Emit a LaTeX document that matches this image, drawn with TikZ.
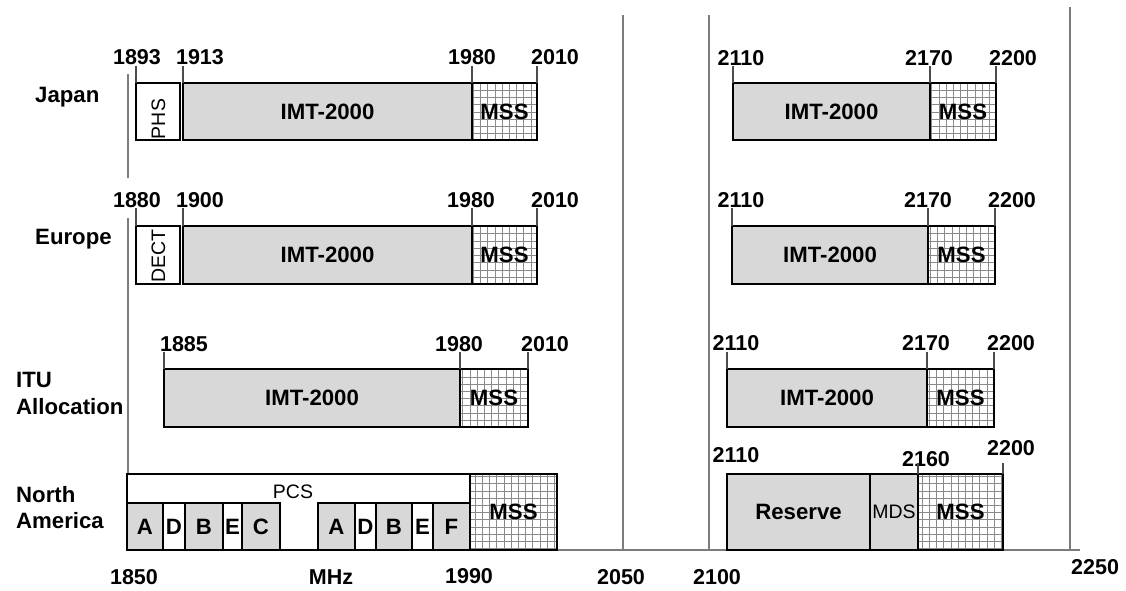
\documentclass[tikz,border=0pt]{standalone}
\usepackage{fontspec}
\setmainfont{Liberation Sans}
\definecolor{bandgray}{HTML}{D8D8D8}
\definecolor{guidegray}{HTML}{7C7C7C}
\definecolor{hatchgray}{HTML}{8A8A8A}
\newcommand\bigbold{\fontsize{21.5}{24}\selectfont\bfseries}
\newcommand\boxbold{\fontsize{22.2}{24}\selectfont\bfseries}
\newcommand\smallreg{\fontsize{19.5}{22}\selectfont}
\newcommand\fband[7]{\node[#6, minimum width={(#4-#2)*1pt}, minimum height={(#5-#3)*1pt}, anchor=north west] (#1) at (#2,#3) {#7};}
\tikzset{
  guide/.style={draw=guidegray, line width=1.6pt},
  tickln/.style={draw=black!70, line width=1.2pt},
  bandbox/.style={draw=black, line width=2.6pt, inner sep=0pt, outer sep=0pt},
  plainbox/.style={bandbox, fill=white},
  imt/.style={bandbox, fill=bandgray, font=\boxbold},
  mss/.style={bandbox, fill=white, font=\boxbold,
    path picture={\draw[draw=hatchgray, line width=0.7pt]
      ([xshift=-10pt,yshift=-10pt]path picture bounding box.south west) grid[step=7.2pt]
      ([xshift=10pt,yshift=10pt]path picture bounding box.north east);}},
  freq/.style={font=\bigbold, inner sep=0pt, anchor=base},
  region/.style={font=\boxbold, inner sep=0pt, anchor=base west},
  smalltxt/.style={font=\smallreg, inner sep=0pt},
}
\begin{document}
\begin{tikzpicture}[x=1pt,y=-1pt]
\useasboundingbox (0,0) rectangle (1126,590);
\fill[white] (0,0) rectangle (1126,590);
% frame coordinates
\coordinate (g1t) at (128,74);
\coordinate (g1m) at (128,178);
\coordinate (g1n) at (128,218);
\coordinate (g1b) at (128,550);
\coordinate (g2t) at (623,15);
\coordinate (g2b) at (623,550);
\coordinate (g3t) at (709,15);
\coordinate (g3b) at (709,550);
\coordinate (g4t) at (1070,7);
\coordinate (g4b) at (1070,550);
\coordinate (axe) at (1080,550);
\draw[guide] (g1t) -- (g1m);
\draw[guide] (g1n) -- (g1b);
\draw[guide] (g2t) -- (g2b);
\draw[guide] (g3t) -- (g3b);
\draw[guide] (g4t) -- (g4b);
\draw[guide] (g1b) -- (axe);

% region labels
\node[region] (rjap) at (35,102) {Japan};
\node[region] (reur) at (35,244) {Europe};
\node[region] (ritu1) at (16,387) {ITU};
\node[region] (ritu2) at (16,414) {Allocation};
\node[region] (rna1) at (16,502) {North};
\node[region] (rna2) at (16,528) {America};

% ---------- Japan ----------
\fband{jphs}{136}{83}{180}{140}{plainbox}{}
\fband{jimt}{183}{83}{472}{140}{imt}{IMT-2000}
\fband{jmss}{472}{83}{537}{140}{mss}{MSS}
\fband{jimtr}{733}{83}{930}{140}{imt}{IMT-2000}
\fband{jmssr}{930}{83}{996}{140}{mss}{MSS}
\node[smalltxt, rotate=90] (jphst) at (158.5,119) {PHS};
\node[freq] (j1893) at (137,64) {1893};
\node[freq] (j1913) at (200,64) {1913};
\node[freq] (j1980) at (472,64) {1980};
\node[freq] (j2010) at (555,64) {2010};
\node[freq] (j2110) at (741,65) {2110};
\node[freq] (j2170) at (929,65) {2170};
\node[freq] (j2200) at (1013,65) {2200};
\foreach \c in {jphs.north west, jimt.north west, jmss.north west, jmss.north east, jimtr.north west, jmssr.north west, jmssr.north east}
  \draw[tickln] (\c) -- ++(0,-17);

% ---------- Europe ----------
\fband{ephs}{136}{226}{180}{284}{plainbox}{}
\fband{eimt}{183}{226}{472}{284}{imt}{IMT-2000}
\fband{emss}{472}{226}{537}{284}{mss}{MSS}
\fband{eimtr}{732}{226}{928}{284}{imt}{IMT-2000}
\fband{emssr}{928}{226}{995}{284}{mss}{MSS}
\node[smalltxt, rotate=90] (edect) at (158.5,256) {DECT};
\node[freq] (e1880) at (137,207) {1880};
\node[freq] (e1900) at (200,207) {1900};
\node[freq] (e1980) at (471,207) {1980};
\node[freq] (e2010) at (555,207) {2010};
\node[freq] (e2110) at (741,207) {2110};
\node[freq] (e2170) at (928,207) {2170};
\node[freq] (e2200) at (1012,207) {2200};
\foreach \c in {ephs.north west, eimt.north west, emss.north west, emss.north east, eimtr.north west, emssr.north west, emssr.north east}
  \draw[tickln] (\c) -- ++(0,-18);

% ---------- ITU ----------
\fband{iimt}{164}{369}{460}{427}{imt}{IMT-2000}
\fband{imss}{460}{369}{528}{427}{mss}{MSS}
\fband{iimtr}{727}{369}{927}{427}{imt}{IMT-2000}
\fband{imssr}{927}{369}{994}{427}{mss}{MSS}
\node[freq] (i1885) at (184,351) {1885};
\node[freq] (i1980) at (459,351) {1980};
\node[freq] (i2010) at (545,351) {2010};
\node[freq] (i2110) at (736,350) {2110};
\node[freq] (i2170) at (926,350) {2170};
\node[freq] (i2200) at (1011,350) {2200};
\foreach \c in {iimt.north west, imss.north west, imss.north east, iimtr.north west, imssr.north west, imssr.north east}
  \draw[tickln] (\c) -- ++(0,-17);

% ---------- North America ----------
\fband{pcs}{127}{474}{470}{550}{plainbox}{}
\node[smalltxt] (pcst) at (293,492) {PCS};
\fband{na1}{127}{503}{163}{550}{imt}{A}
\fband{nd1}{163}{503}{185}{550}{plainbox}{\boxbold D}
\fband{nb1}{185}{503}{223}{550}{imt}{B}
\fband{ne1}{223}{503}{242}{550}{plainbox}{\boxbold E}
\fband{nc1}{242}{503}{280}{550}{imt}{C}
\fband{na2}{318}{503}{355}{550}{imt}{A}
\fband{nd2}{355}{503}{376}{550}{plainbox}{\boxbold D}
\fband{nb2}{376}{503}{412}{550}{imt}{B}
\fband{ne2}{412}{503}{433}{550}{plainbox}{\boxbold E}
\fband{nf2}{433}{503}{470}{550}{imt}{F}
\fband{nmss}{470}{474}{557}{550}{mss}{MSS}
\fband{nres}{727}{474}{870}{550}{imt}{Reserve}
\fband{nmds}{870}{474}{918}{550}{imt}{\smallreg\mdseries MDS}
\fband{nmssr}{918}{474}{1003}{550}{mss}{MSS}
\node[freq] (n2110) at (736,462) {2110};
\node[freq] (n2160) at (926,466) {2160};
\node[freq] (n2200) at (1011,455) {2200};
\draw[tickln] (nmssr.north west) -- ++(0,-11);
\draw[tickln] (nmssr.north east) -- ++(0,-11);

% ---------- axis labels ----------
\node[freq] (a1850) at (134,584) {1850};
\node[freq] (amhz) at (331,584) {MHz};
\node[freq] (a1990) at (469,583) {1990};
\node[freq] (a2050) at (621,584) {2050};
\node[freq] (a2100) at (717,584) {2100};
\node[freq, anchor=base west] (a2250) at (1071,574) {2250};
\end{tikzpicture}
\end{document}
